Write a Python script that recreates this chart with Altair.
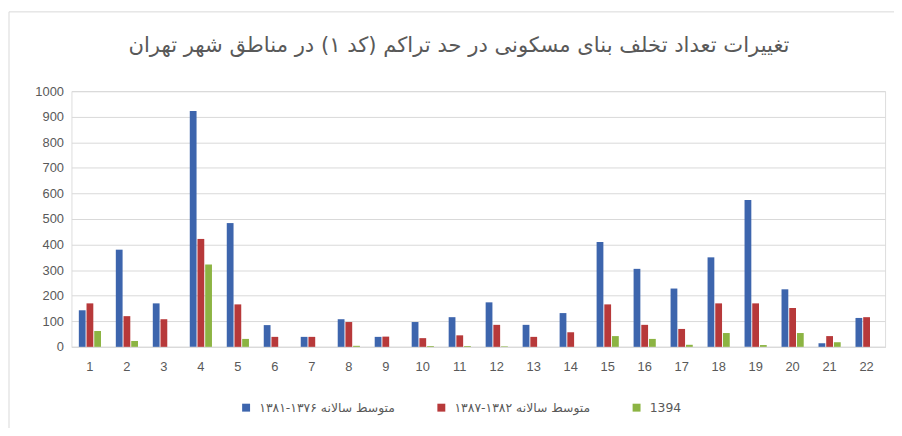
import altair as alt
import pandas as pd

zones = [str(i) for i in range(1, 23)]
series_names = ["متوسط سالانه ۱۳۷۶-۱۳۸۱", "متوسط سالانه ۱۳۸۲-۱۳۸۷", "1394"]
blue = [143, 380, 170, 922, 484, 85, 39, 108, 39, 97, 116, 174, 86, 132, 410, 305, 228, 350, 574, 225, 14, 113]
red = [170, 120, 108, 422, 166, 39, 39, 97, 40, 34, 45, 86, 39, 57, 166, 86, 70, 170, 170, 152, 42, 116]
green = [62, 23, 0, 322, 31, 0, 0, 4, 0, 3, 3, 2, 0, 0, 42, 31, 8, 54, 7, 54, 18, 0]
colors = ["#3d65ad", "#b7393a", "#8cb443"]
title_text = "تغییرات تعداد تخلف بنای مسکونی در حد تراکم (کد ۱) در مناطق شهر تهران"

rows = []
for name, vals in zip(series_names, [blue, red, green]):
    for z, v in zip(zones, vals):
        rows.append({"zone": z, "series": name, "value": v})
df = pd.DataFrame(rows)

W, H = 821, 258

bars = alt.Chart(df).mark_bar().encode(
    x=alt.X("zone:N", sort=zones, title=None,
            scale=alt.Scale(paddingInner=0.4, paddingOuter=0.2),
            axis=alt.Axis(labelAngle=0, ticks=False, domain=True, domainColor="#d9d9d9",
                          labelFont="Liberation Sans", labelFontSize=13, labelColor="#595959",
                          labelPadding=14, grid=False)),
    xOffset=alt.XOffset("series:N", sort=series_names, scale=alt.Scale(paddingInner=0.12)),
    y=alt.Y("value:Q", title=None,
            scale=alt.Scale(domain=[0, 1000]),
            axis=alt.Axis(values=list(range(0, 1001, 100)), format="d", ticks=False, domain=False,
                          gridColor="#d9d9d9", labelFont="Liberation Sans", labelFontSize=13,
                          labelColor="#595959", labelPadding=8)),
    color=alt.Color("series:N", sort=series_names,
                    scale=alt.Scale(domain=series_names, range=colors),
                    legend=alt.Legend(title=None, orient="none", direction="horizontal",
                                      legendX=170, legendY=313, symbolType="square",
                                      symbolSize=64, symbolStrokeWidth=0,
                                      labelFont="DejaVu Sans", labelFontSize=12.5,
                                      labelColor="#595959", columnPadding=40, labelOffset=7)),
)

frame = alt.Chart(alt.Data(values=[{}])).mark_rect(
    fill=None, stroke="#d9d9d9", strokeWidth=1, clip=False
).encode(
    x=alt.value(-63), x2=alt.value(834), y=alt.value(-80), y2=alt.value(345)
)

title = alt.Chart(alt.Data(values=[{"t": title_text}])).mark_text(
    font="DejaVu Sans", fontSize=21.3, color="#595959", align="center", baseline="middle", clip=False
).encode(text="t:N", x=alt.value(391), y=alt.value(-45))

chart = alt.layer(frame, title, bars).properties(
    width=W, height=H,
    padding={"left": 64, "top": 82, "right": 9, "bottom": 80},
    autosize=alt.AutoSizeParams(type="none"),
).configure_view(stroke=None).configure(background="white")

chart.save("out.html", embed_options={"renderer": "svg", "actions": False})
